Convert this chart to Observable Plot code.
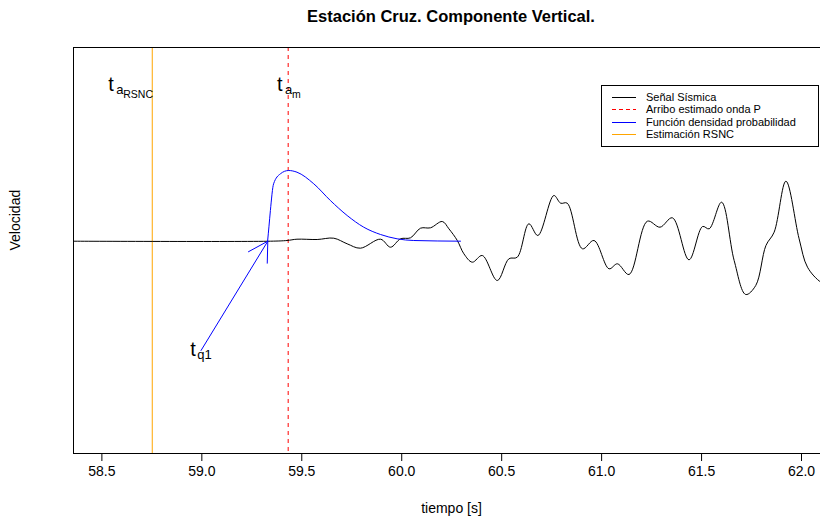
<!DOCTYPE html>
<html>
<head>
<meta charset="utf-8">
<script src="https://cdn.jsdelivr.net/npm/d3@7"></script>
<script src="https://cdn.jsdelivr.net/npm/@observablehq/plot@0.6"></script>
<style>
html, body { margin: 0; padding: 0; background: #fff; overflow: hidden; width: 820px; height: 523px; }
#wrap { position: relative; width: 820px; height: 523px; font-family: "Liberation Sans", Arial, sans-serif; overflow: hidden; }
#chart { position: absolute; left: 0; top: 0; width: 830px; height: 523px; }
#chart svg { max-width: none !important; }
#title { position: absolute; left: 0; top: 7px; width: 902px; text-align: center; font-weight: bold; font-size: 16.5px; color: #000; }
#legend { position: absolute; left: 601px; top: 85px; width: 218px; height: 62px; border: 1px solid #000; box-sizing: border-box; background: #fff; }
.lrow { position: absolute; left: 0; height: 12px; width: 216px; }
.lrow .seg { position: absolute; top: 6px; height: 1px; }
.lrow span { position: absolute; left: 44px; top: 0px; font-size: 11px; line-height: 13px; color: #000; white-space: nowrap; }
</style>
</head>
<body>
<div id="wrap">
  <div id="chart"></div>
  <div id="title"></div>
  <div id="legend"></div>
</div>
<script>
// ---- data ----
const titleText = "Estación Cruz. Componente Vertical.";
const xLabel = "tiempo [s]";
const yLabel = "Velocidad";
const xTicks = [58.5, 59.0, 59.5, 60.0, 60.5, 61.0, 61.5, 62.0];

// seismic signal (time s, relative velocity)
const seismicT = [58.358, 59.343, 59.426, 59.476, 59.577, 59.660, 59.727, 59.793, 59.894, 59.944, 59.994, 60.044, 60.094, 60.144, 60.203, 60.236, 60.278, 60.311, 60.353, 60.403, 60.478, 60.536, 60.578, 60.636, 60.681, 60.761, 60.795, 60.828, 60.904, 60.962, 61.037, 61.079, 61.137, 61.229, 61.292, 61.354, 61.437, 61.505, 61.538, 61.600, 61.663, 61.721, 61.771, 61.822, 61.863, 61.922, 61.988, 62.030, 62.097, 62.142];
const seismicV = [0, 0, 0.007, 0.02, 0.017, 0.03, -0.026, -0.07, 0.02, -0.06, 0.024, 0.034, 0.13, 0.134, 0.197, 0.124, 0.007, -0.126, -0.21, -0.143, -0.393, -0.176, -0.16, 0.174, 0.057, 0.457, 0.38, 0.38, -0.076, 0.007, -0.276, -0.226, -0.333, 0.2, 0.14, 0.234, -0.186, 0.147, 0.124, 0.39, -0.193, -0.533, -0.443, -0.043, 0.09, 0.6, 0.024, -0.26, -0.41, -0.443];

// probability density function
const pdfT = [59.329, 59.336, 59.343, 59.359, 59.393, 59.434, 59.476, 59.560, 59.643, 59.727, 59.810, 59.894, 59.977, 60.060, 60.294];
const pdfV = [0, 0.15, 0.307, 0.574, 0.674, 0.707, 0.69, 0.574, 0.407, 0.257, 0.14, 0.067, 0.024, 0.007, 0];

// arrow from t_q1 label to onset
const arrowT = [58.996, 59.330];
const arrowV = [-1.093, 0];

// reference times
const tRSNC = 58.752;
const tP = 59.432;

// annotation labels
const labelT = [58.532, 59.376, 58.942];
const labelV = [1.5, 1.5, -1.143];
const labelSub1 = ["a", "a", "q1"];
const labelSub2 = ["RSNC", "m", ""];

// legend
const legendNames = ["Señal Sísmica", "Arribo estimado onda P", "Función densidad probabilidad", "Estimación RSNC"];
const legendColors = ["#000000", "#ff0000", "#0000ff", "#ffa500"];
const legendDashed = [false, true, false, false];

// ---- build ----
const seis = seismicT.map((t, i) => ({t, v: seismicV[i]}));
const pdf = pdfT.map((t, i) => ({t, v: pdfV[i]}));
const arrow = [{x1: arrowT[0], y1: arrowV[0], x2: arrowT[1], y2: arrowV[1]}];
const labels = labelT.map((t, i) => ({t, v: labelV[i], s1: labelSub1[i], s2: labelSub2[i]}));

const chart = Plot.plot({
  width: 830,
  height: 523,
  marginLeft: 73,
  marginRight: 1,
  marginTop: 47,
  marginBottom: 70,
  x: {domain: [58.358, 62.140]},
  y: {domain: [-2.123, 1.937], axis: null},
  style: {fontFamily: "'Liberation Sans', Arial, sans-serif", fontSize: "14px", color: "#000", background: "white", maxWidth: "none"},
  marks: [
    Plot.ruleX([tRSNC], {stroke: "orange", strokeWidth: 1}),
    Plot.ruleX([tP], {stroke: "red", strokeWidth: 1, strokeDasharray: "4,4"}),
    Plot.line(seis, {x: "t", y: "v", stroke: "black", strokeWidth: 1, curve: "catmull-rom"}),
    Plot.line(pdf, {x: "t", y: "v", stroke: "blue", strokeWidth: 1, curve: "monotone-x"}),
    Plot.arrow(arrow, {x1: "x1", y1: "y1", x2: "x2", y2: "y2", stroke: "blue", strokeWidth: 1, headLength: 33, headAngle: 60}),
    Plot.text(labels, {x: "t", y: "v", text: () => "t", fontSize: 20, textAnchor: "start", lineAnchor: "bottom", fill: "black"}),
    Plot.text(labels.slice(0, 2), {x: "t", y: "v", text: "s1", fontSize: 13, dx: 8, dy: 3, textAnchor: "start", lineAnchor: "bottom", fill: "black"}),
    Plot.text(labels.slice(0, 2), {x: "t", y: "v", text: "s2", fontSize: 10.5, dx: 15, dy: 7, textAnchor: "start", lineAnchor: "bottom", fill: "black"}),
    Plot.text(labels.slice(2), {x: "t", y: "v", text: "s1", fontSize: 13, dx: 7, dy: 3, textAnchor: "start", lineAnchor: "bottom", fill: "black"}),
    Plot.frame({stroke: "black", strokeWidth: 1}),
    Plot.axisX({ticks: xTicks, tickFormat: d3.format(".1f"), tickSize: 8, tickPadding: 5, label: null, fontSize: 14, stroke: "black", fill: "black"}),
    Plot.text([xLabel], {frameAnchor: "bottom", dy: 59, fontSize: 14, fill: "black"}),
    Plot.text([yLabel], {frameAnchor: "left", dx: -58, rotate: -90, fontSize: 14, fill: "black"})
  ]
});
chart.style.maxWidth = "none";
chart.style.width = "830px";
chart.style.height = "523px";
document.getElementById("chart").appendChild(chart);
document.getElementById("title").textContent = titleText;

const legend = document.getElementById("legend");
const rowTops = [5, 17, 30, 42];
legendNames.forEach((name, i) => {
  const row = document.createElement("div");
  row.className = "lrow";
  row.style.top = rowTops[i] + "px";
  const segs = legendDashed[i] ? [[10, 4], [17, 4], [24, 4], [31, 3]] : [[10, 24]];
  segs.forEach(([l, w]) => {
    const s = document.createElement("div");
    s.className = "seg";
    s.style.left = l + "px";
    s.style.width = w + "px";
    s.style.backgroundColor = legendColors[i];
    row.appendChild(s);
  });
  const sp = document.createElement("span");
  sp.textContent = name;
  row.appendChild(sp);
  legend.appendChild(row);
});
</script>
</body>
</html>
